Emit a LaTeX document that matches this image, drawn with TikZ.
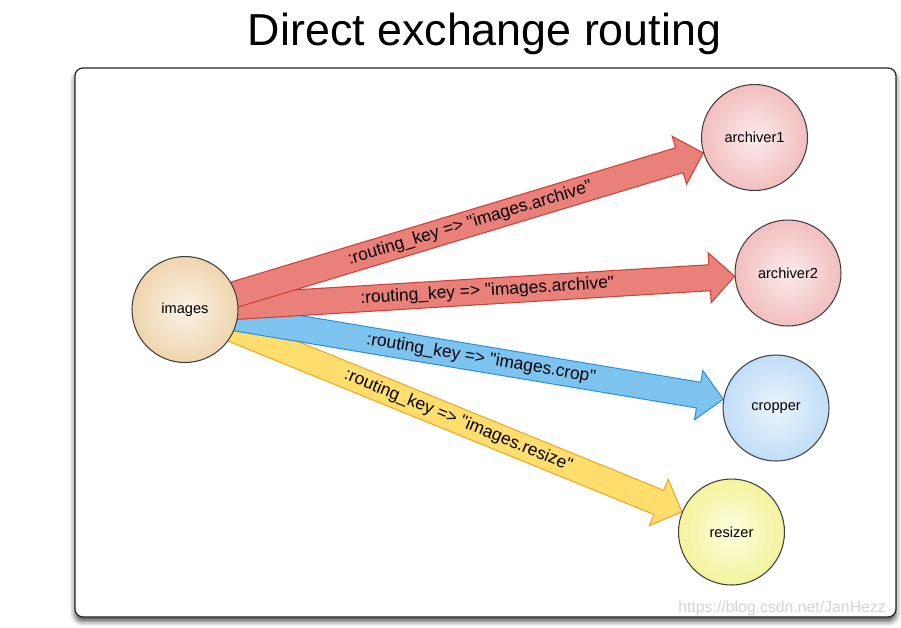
\documentclass[tikz,border=0pt]{standalone}
\usepackage{fontspec}
\setmainfont{Liberation Sans}[Ligatures=TeXOff]
\usetikzlibrary{calc,shadows.blur}

\definecolor{imgedge}{RGB}{228,184,118}
\definecolor{arcedge}{RGB}{234,145,145}
\definecolor{cropedge}{RGB}{148,198,240}
\definecolor{sizeedge}{RGB}{236,236,88}
\definecolor{redfill}{RGB}{233,128,122}
\definecolor{redline}{RGB}{205,65,55}
\definecolor{bluefill}{RGB}{125,195,240}
\definecolor{blueline}{RGB}{45,145,215}
\definecolor{yellowfill}{RGB}{255,222,110}
\definecolor{yellowline}{RGB}{245,165,35}

\makeatletter
\pgfdeclareradialshading[tikz@radial@inner,tikz@radial@outer]{softball}{\pgfpointorigin}{color(0bp)=(tikz@radial@inner); color(50bp)=(tikz@radial@outer)}
\makeatother

\pgfdeclarelayer{back}
\pgfdeclarelayer{flow}
\pgfsetlayers{back,flow,main}

\tikzset{
  panel/.style={draw=black!85, line width=0.7pt, fill=white, rounded corners=0.16cm,
    blur shadow={shadow xshift=0pt, shadow yshift=-2.5pt, shadow blur radius=3pt, shadow opacity=70}},
  ball/.style={circle, draw=black!75, line width=0.6pt, minimum size=2.12cm, inner sep=0pt,
    font=\fontsize{8.3}{10}\selectfont, inner color=#1!18, outer color=#1, shading=softball},
  redflow/.style={fill=redfill, draw=redline, line width=0.6pt},
  blueflow/.style={fill=bluefill, draw=blueline, line width=0.6pt},
  yellowflow/.style={fill=yellowfill, draw=yellowline, line width=0.6pt},
  keytext/.style={inner sep=0pt, font=\fontsize{9.9}{12}\selectfont}
}

% style, from, to, key
\newcommand\routearrow[4]{%
  \coordinate (tip) at ($(#3)!1.07cm!(#2)$);
  \coordinate (base) at ($(tip)!0.5cm!(#2)$);
  \filldraw[#1] ($(#2)!0.26cm!90:(tip)$) -- ($(base)!0.26cm!-90:(#2)$) -- ($(base)!0.5cm!-90:(#2)$)
    -- (tip) -- ($(base)!0.5cm!90:(#2)$) -- ($(base)!0.26cm!90:(#2)$) -- ($(#2)!0.26cm!-90:(tip)$) -- cycle;
  \path (#2.center) -- (tip) node[keytext, pos=.55, sloped] {#4};
}

\begin{document}
\begin{tikzpicture}[x=0.02cm, y=-0.02cm]
\useasboundingbox (0,0) rectangle (901,627);
% title
\node[anchor=base, font=\fontsize{25.5}{30}\selectfont] (title) at (484.5,45) {Direct exchange routing};
% box
\begin{pgfonlayer}{back}
\draw[panel] (75,68) rectangle (896,617);
\end{pgfonlayer}
% exchange
\node[ball=imgedge] (images) at (185,309.5) {images};
% queues
\node[ball=arcedge] (archiver1) at (754.5,137.5) {archiver1};
\node[ball=arcedge] (archiver2) at (788,273) {archiver2};
\node[ball=cropedge] (cropper) at (776,408) {cropper};
\node[ball=sizeedge] (resizer) at (731.5,532) {resizer};
% bindings
\begin{pgfonlayer}{flow}
\routearrow{yellowflow}{images}{resizer}{:routing\_key => "images.resize"}
\routearrow{blueflow}{images}{cropper}{:routing\_key => "images.crop"}
\routearrow{redflow}{images}{archiver2}{:routing\_key => "images.archive"}
\routearrow{redflow}{images}{archiver1}{:routing\_key => "images.archive"}
\end{pgfonlayer}
% watermark
\node[anchor=base east, text=black!17, font=\fontsize{9}{11}\selectfont] (mark) at (892,612) {https://blog.csdn.net/JanHezz};
\end{tikzpicture}
\end{document}
